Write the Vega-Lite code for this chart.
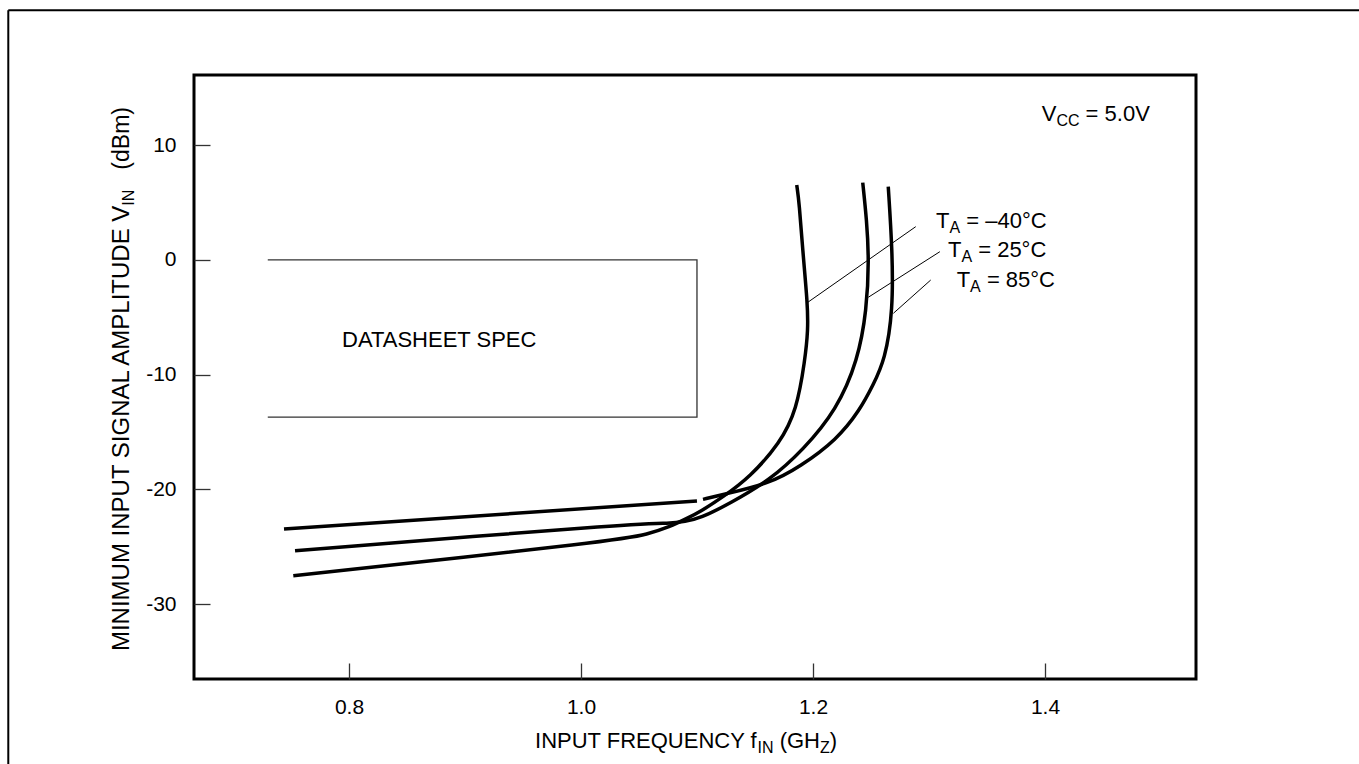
{
  "$schema": "https://vega.github.io/schema/vega-lite/v6.json",
  "width": 1002,
  "height": 604,
  "autosize": {"type": "none"},
  "padding": {"left": 194, "top": 75, "right": 163, "bottom": 85},
  "background": "white",
  "config": {
    "view": {"stroke": "black", "strokeWidth": 3},
    "font": "Liberation Sans",
    "text": {"font": "Liberation Sans", "color": "black", "align": "left", "baseline": "alphabetic"}
  },
  "datasets": {
    "curves": [
      {"s": "m40", "i": 1, "f": 0.752, "v": -27.52},
      {"s": "m40", "i": 2, "f": 1.036, "v": -24.4},
      {"s": "m40", "i": 3, "f": 1.0566, "v": -23.91},
      {"s": "m40", "i": 4, "f": 1.0767, "v": -23.25},
      {"s": "m40", "i": 5, "f": 1.0914, "v": -22.52},
      {"s": "m40", "i": 6, "f": 1.1026, "v": -21.95},
      {"s": "m40", "i": 7, "f": 1.1224, "v": -20.66},
      {"s": "m40", "i": 8, "f": 1.1457, "v": -18.92},
      {"s": "m40", "i": 9, "f": 1.1716, "v": -15.96},
      {"s": "m40", "i": 10, "f": 1.186, "v": -13.08},
      {"s": "m40", "i": 11, "f": 1.1931, "v": -8.73},
      {"s": "m40", "i": 12, "f": 1.1958, "v": -6.11},
      {"s": "m40", "i": 13, "f": 1.1953, "v": -3.76},
      {"s": "m40", "i": 14, "f": 1.1911, "v": 0.86},
      {"s": "m40", "i": 15, "f": 1.1882, "v": 4.95},
      {"s": "m40", "i": 16, "f": 1.186, "v": 6.52},
      {"s": "p25", "i": 1, "f": 0.7535, "v": -25.34},
      {"s": "p25", "i": 2, "f": 1.0466, "v": -22.95},
      {"s": "p25", "i": 3, "f": 1.0767, "v": -22.97},
      {"s": "p25", "i": 4, "f": 1.0897, "v": -22.79},
      {"s": "p25", "i": 5, "f": 1.1026, "v": -22.53},
      {"s": "p25", "i": 6, "f": 1.1285, "v": -21.21},
      {"s": "p25", "i": 7, "f": 1.163, "v": -19.18},
      {"s": "p25", "i": 8, "f": 1.1914, "v": -16.57},
      {"s": "p25", "i": 9, "f": 1.2204, "v": -13.08},
      {"s": "p25", "i": 10, "f": 1.2388, "v": -8.73},
      {"s": "p25", "i": 11, "f": 1.2463, "v": -4.37},
      {"s": "p25", "i": 12, "f": 1.2483, "v": -0.01},
      {"s": "p25", "i": 13, "f": 1.2463, "v": 3.47},
      {"s": "p25", "i": 14, "f": 1.2429, "v": 6.72},
      {"s": "p85a", "i": 1, "f": 0.744, "v": -23.45},
      {"s": "p85a", "i": 2, "f": 1.1, "v": -21.0},
      {"s": "p85b", "i": 1, "f": 1.1052, "v": -20.86},
      {"s": "p85b", "i": 2, "f": 1.1224, "v": -20.44},
      {"s": "p85b", "i": 3, "f": 1.163, "v": -19.47},
      {"s": "p85b", "i": 4, "f": 1.1888, "v": -18.02},
      {"s": "p85b", "i": 5, "f": 1.2204, "v": -15.69},
      {"s": "p85b", "i": 6, "f": 1.2405, "v": -13.08},
      {"s": "p85b", "i": 7, "f": 1.2518, "v": -10.9},
      {"s": "p85b", "i": 8, "f": 1.2621, "v": -8.73},
      {"s": "p85b", "i": 9, "f": 1.269, "v": -4.37},
      {"s": "p85b", "i": 10, "f": 1.2684, "v": 0.86},
      {"s": "p85b", "i": 11, "f": 1.2649, "v": 6.37}
    ],
    "spec": [
      {"i": 1, "f": 0.73, "v": 0},
      {"i": 2, "f": 1.1, "v": 0},
      {"i": 3, "f": 1.1, "v": -13.7},
      {"i": 4, "f": 0.73, "v": -13.7}
    ],
    "leaders": [
      {"s": "m40", "i": 1, "f": 1.1951, "v": -3.73},
      {"s": "m40", "i": 2, "f": 1.2886, "v": 2.89},
      {"s": "p25", "i": 1, "f": 1.2477, "v": -3.26},
      {"s": "p25", "i": 2, "f": 1.3094, "v": 0.71},
      {"s": "p85", "i": 1, "f": 1.2693, "v": -4.66},
      {"s": "p85", "i": 2, "f": 1.3015, "v": -1.76}
    ],
    "labels": [
      {"f": 1.3061, "v": 2.75, "rest": "= –40°C"},
      {"f": 1.3164, "v": 0.25, "rest": "= 25°C"},
      {"f": 1.3239, "v": -2.34, "rest": "= 85°C"}
    ],
    "vcc": [{"f": 1.3972, "v": 12.12}],
    "specnote": [{"f": 0.794, "v": -7.57}],
    "xtitle": [{"f": 0.9604, "v": -42.5}],
    "ytitle": [{"f": 0.6104, "v": 13.31}],
    "frameLeft": [{"f": 0.5063, "v": 21.74, "v2": -50}],
    "frameTop": [{"f": 0.5063, "f2": 1.8, "v": 21.74}]
  },
  "encoding": {
    "x": {
      "field": "f", "type": "quantitative",
      "scale": {"domain": [0.6664, 1.5302], "nice": false, "zero": false},
      "axis": {"values": [0.8, 1.0, 1.2, 1.4], "format": ".1f", "title": null, "domain": false, "grid": false, "tickSize": -16, "tickColor": "#333", "tickWidth": 1.3, "labelFontSize": 21, "labelColor": "black", "labelPadding": 33, "labelFont": "Liberation Sans"}
    },
    "y": {
      "field": "v", "type": "quantitative",
      "scale": {"domain": [-36.51, 16.1], "nice": false, "zero": false},
      "axis": {"values": [10, 0, -10, -20, -30], "labelExpr": "'' + datum.value", "title": null, "domain": false, "grid": false, "tickSize": -16, "tickColor": "#333", "tickWidth": 1.3, "labelFontSize": 21, "labelColor": "black", "labelPadding": 34, "labelFont": "Liberation Sans"}
    }
  },
  "layer": [
    {
      "data": {"name": "curves"},
      "mark": {"type": "line", "interpolate": "basis", "strokeWidth": 3.5, "color": "black", "strokeCap": "butt", "strokeJoin": "round"},
      "encoding": {
        "detail": {"field": "s"},
        "order": {"field": "i", "type": "quantitative"}
      }
    },
    {
      "data": {"name": "spec"},
      "mark": {"type": "line", "strokeWidth": 1.3, "color": "#333"},
      "encoding": {"order": {"field": "i", "type": "quantitative"}}
    },
    {
      "data": {"name": "leaders"},
      "mark": {"type": "line", "strokeWidth": 1, "color": "black"},
      "encoding": {
        "detail": {"field": "s"},
        "order": {"field": "i", "type": "quantitative"}
      }
    },
    {
      "data": {"name": "labels"},
      "mark": {"type": "text", "text": "T", "fontSize": 22},
      "encoding": {}
    },
    {
      "data": {"name": "labels"},
      "mark": {"type": "text", "text": "A", "fontSize": 16, "dx": 13.4, "dy": 5},
      "encoding": {}
    },
    {
      "data": {"name": "labels"},
      "mark": {"type": "text", "fontSize": 22, "dx": 30.2},
      "encoding": {"text": {"field": "rest"}}
    },
    {
      "data": {"name": "vcc"},
      "mark": {"type": "text", "text": "V", "fontSize": 22},
      "encoding": {}
    },
    {
      "data": {"name": "vcc"},
      "mark": {"type": "text", "text": "CC", "fontSize": 16, "dx": 14.7, "dy": 5},
      "encoding": {}
    },
    {
      "data": {"name": "vcc"},
      "mark": {"type": "text", "text": "= 5.0V", "fontSize": 22, "dx": 43.9},
      "encoding": {}
    },
    {
      "data": {"name": "specnote"},
      "mark": {"type": "text", "text": "DATASHEET SPEC", "fontSize": 22},
      "encoding": {}
    },
    {
      "data": {"name": "xtitle"},
      "mark": {"type": "text", "text": "INPUT FREQUENCY f", "fontSize": 22},
      "encoding": {}
    },
    {
      "data": {"name": "xtitle"},
      "mark": {"type": "text", "text": "IN", "fontSize": 16, "dx": 222.5, "dy": 5},
      "encoding": {}
    },
    {
      "data": {"name": "xtitle"},
      "mark": {"type": "text", "text": "(GH", "fontSize": 22, "dx": 244.6},
      "encoding": {}
    },
    {
      "data": {"name": "xtitle"},
      "mark": {"type": "text", "text": "Z", "fontSize": 16, "dx": 284.9, "dy": 5},
      "encoding": {}
    },
    {
      "data": {"name": "xtitle"},
      "mark": {"type": "text", "text": ")", "fontSize": 22, "dx": 294.7},
      "encoding": {}
    },
    {
      "data": {"name": "ytitle"},
      "mark": {"type": "text", "text": "(dBm)", "align": "right", "fontSize": 23, "angle": 270},
      "encoding": {}
    },
    {
      "data": {"name": "ytitle"},
      "mark": {"type": "text", "text": "IN", "align": "right", "fontSize": 16, "angle": 270, "dx": -82.6, "dy": 5},
      "encoding": {}
    },
    {
      "data": {"name": "ytitle"},
      "mark": {"type": "text", "text": "MINIMUM INPUT SIGNAL AMPLITUDE V", "align": "right", "fontSize": 24, "angle": 270, "dx": -98.6},
      "encoding": {}
    },
    {
      "data": {"name": "frameLeft"},
      "mark": {"type": "rule", "strokeWidth": 2, "color": "black"},
      "encoding": {"y2": {"field": "v2"}}
    },
    {
      "data": {"name": "frameTop"},
      "mark": {"type": "rule", "strokeWidth": 2, "color": "black"},
      "encoding": {"x2": {"field": "f2"}}
    }
  ]
}
